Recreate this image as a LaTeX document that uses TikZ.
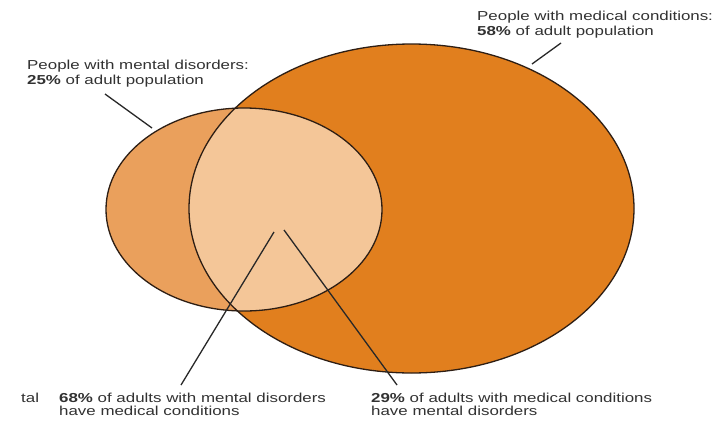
\documentclass[tikz,border=0pt]{standalone}
\usepackage{fontspec}
\setmainfont{Liberation Sans}[FakeStretch=1.3]
\definecolor{bigfill}{RGB}{225,127,30}
\definecolor{smfill}{RGB}{234,160,92}
\definecolor{intfill}{RGB}{244,198,152}
\definecolor{outl}{RGB}{45,30,20}
\definecolor{txt}{RGB}{50,50,50}
\definecolor{lin}{RGB}{40,40,40}
\begin{document}
\begin{tikzpicture}[x=1pt,y=-1pt,
  lbl/.style={anchor=base west, inner sep=0pt, text=txt, font=\fontsize{13}{15}\selectfont},
  conn/.style={draw=lin, line width=1.3pt},
  outline/.style={draw=outl, line width=1.3pt}]
\useasboundingbox[fill=white] (0,0) rectangle (725,421);
\coordinate (bigc) at (411.5,208.5);
\coordinate (smc) at (244,209.5);
% shapes
\fill[bigfill] (bigc) ellipse [x radius=222.5pt, y radius=164.5pt];
\fill[smfill] (smc) ellipse [x radius=138pt, y radius=101.5pt];
\begin{scope}
  \clip (bigc) ellipse [x radius=222.5pt, y radius=164.5pt];
  \fill[intfill] (smc) ellipse [x radius=138pt, y radius=101.5pt];
\end{scope}
\draw[outline] (bigc) ellipse [x radius=222.5pt, y radius=164.5pt];
\draw[outline] (smc) ellipse [x radius=138pt, y radius=101.5pt];
% labels
\node[lbl] (m1) at (27,69.5) {People with mental disorders:};
\node[lbl] (m2) at (27,84.5) {\textbf{25\%} of adult population};
\node[lbl] (d1) at (477,20.5) {People with medical conditions:};
\node[lbl] (d2) at (477,35.5) {\textbf{58\%} of adult population};
\node[lbl] (b1) at (59,402.5) {\textbf{68\%} of adults with mental disorders};
\node[lbl] (b2) at (59,415.5) {have medical conditions};
\node[lbl] (c1) at (371,402.5) {\textbf{29\%} of adults with medical conditions};
\node[lbl] (c2) at (371,415.5) {have mental disorders};
\node[lbl] (tl) at (21,402.5) {tal};
% connector ends
\coordinate (ma) at (105,94);
\coordinate (mb) at (152,128);
\coordinate (da) at (561,43);
\coordinate (db) at (532,64);
\coordinate (la) at (274,232);
\coordinate (lb) at (181,385);
\coordinate (ra) at (284,230);
\coordinate (rb) at (397,385);
\draw[conn] (ma) -- (mb);
\draw[conn] (da) -- (db);
\draw[conn] (la) -- (lb);
\draw[conn] (ra) -- (rb);
\end{tikzpicture}
\end{document}
